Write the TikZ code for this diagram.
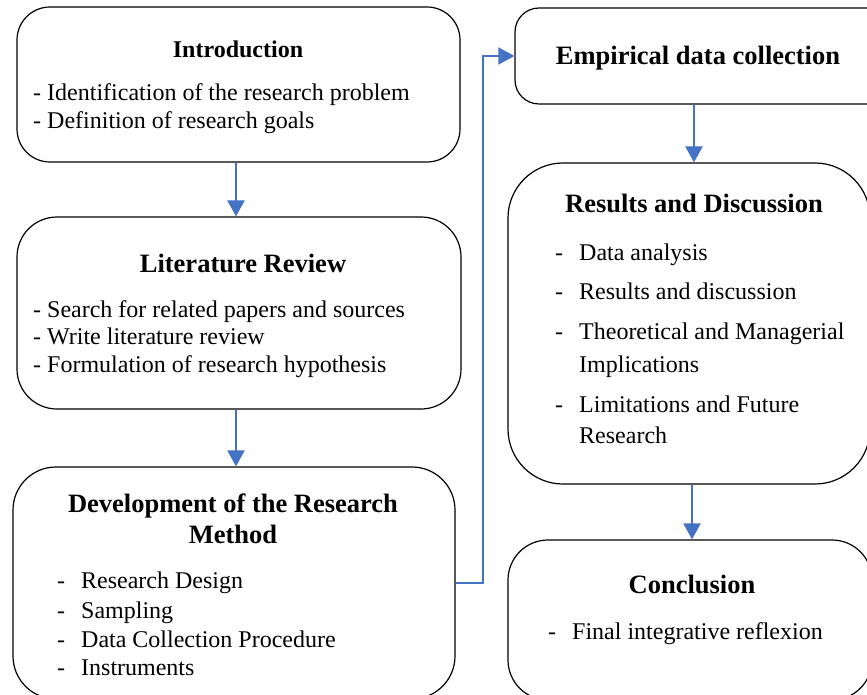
\documentclass[tikz,border=0pt]{standalone}
\usepackage{fontspec}
\setmainfont{Liberation Serif}
\usetikzlibrary{arrows.meta}
\definecolor{flowblue}{HTML}{4472C4}
\begin{document}
\begin{tikzpicture}[x=1pt,y=-1pt,
  box/.style={draw=black, line width=1.2pt, rounded corners=#1, inner sep=0pt, fill=white},
  ttl/.style={inner sep=0pt, anchor=base, font=\fontsize{26.5}{30}\selectfont\bfseries},
  ttls/.style={inner sep=0pt, anchor=base, font=\fontsize{24}{28}\selectfont\bfseries},
  txt/.style={inner sep=0pt, anchor=base west, font=\fontsize{24}{28}\selectfont},
  arr/.style={draw=flowblue, line width=2.3pt, -{Triangle[width=17pt,length=16pt]}},
  elbow/.style={draw=flowblue, line width=1.8pt, -{Triangle[width=17pt,length=16pt]}}
]
\useasboundingbox (0,0) rectangle (867,695);
\clip (0,0) rectangle (867,695);

% boxes
\node[box=33pt, minimum width=443pt, minimum height=155pt] (intro) at (238.5,84.5) {};
\node[box=40pt, minimum width=444pt, minimum height=192pt] (lit) at (239,313) {};
\node[box=43pt, minimum width=442pt, minimum height=232pt] (dev) at (234,583) {};
\node[box=24pt, minimum width=380pt, minimum height=96pt] (emp) at (705,56) {};
\node[box=55pt, minimum width=362pt, minimum height=321pt] (res) at (689,323.5) {};
\node[box=40pt, minimum width=364pt, minimum height=160pt] (conc) at (690,620) {};

% Introduction
\node[ttls] (introT) at (238,58) {Introduction};
\node[txt] (intro1) at (33,101) {- Identification of the research problem};
\node[txt] (intro2) at (33,129) {- Definition of research goals};

% Literature Review
\node[ttl] (litT) at (243,272) {Literature Review};
\node[txt] (lit1) at (33,317) {- Search for related papers and sources};
\node[txt] (lit2) at (33,344) {- Write literature review};
\node[txt] (lit3) at (33,372) {- Formulation of research hypothesis};

% Development
\node[ttl] (devT1) at (233,512) {Development of the Research};
\node[ttl] (devT2) at (233,543) {Method};
\node[txt] (dev1) at (57,588) {\makebox[24pt][l]{-}Research Design};
\node[txt] (dev2) at (57,618) {\makebox[24pt][l]{-}Sampling};
\node[txt] (dev3) at (57,647) {\makebox[24pt][l]{-}Data Collection Procedure};
\node[txt] (dev4) at (57,675) {\makebox[24pt][l]{-}Instruments};

% Empirical
\node[ttl] (empT) at (698,65) {Empirical data collection};

% Results
\node[ttl] (resT) at (694,212) {Results and Discussion};
\node[txt] (res1) at (555,260) {\makebox[24pt][l]{-}Data analysis};
\node[txt] (res2) at (555,299) {\makebox[24pt][l]{-}Results and discussion};
\node[txt] (res3) at (555,339) {\makebox[24pt][l]{-}Theoretical and Managerial};
\node[txt] (res3b) at (579,372) {Implications};
\node[txt] (res4) at (555,412) {\makebox[24pt][l]{-}Limitations and Future};
\node[txt] (res4b) at (579,443) {Research};

% Conclusion
\node[ttl] (concT) at (692,593) {Conclusion};
\node[txt] (conc1) at (548,639) {\makebox[24pt][l]{-}Final integrative reflexion};

% connectors
\coordinate (xa) at (236,0);
\coordinate (xb) at (694,0);
\coordinate (xc) at (692,0);
\coordinate (xe) at (483,0);
\draw[arr] (intro.south -| xa) -- (lit.north -| xa);
\draw[arr] (lit.south -| xa) -- (dev.north -| xa);
\draw[arr] (emp.south -| xb) -- (res.north -| xb);
\draw[arr] (res.south -| xc) -- (conc.north -| xc);
\draw[elbow] (dev.east) -- (dev.east -| xe) |- (emp.west);
\end{tikzpicture}
\end{document}
